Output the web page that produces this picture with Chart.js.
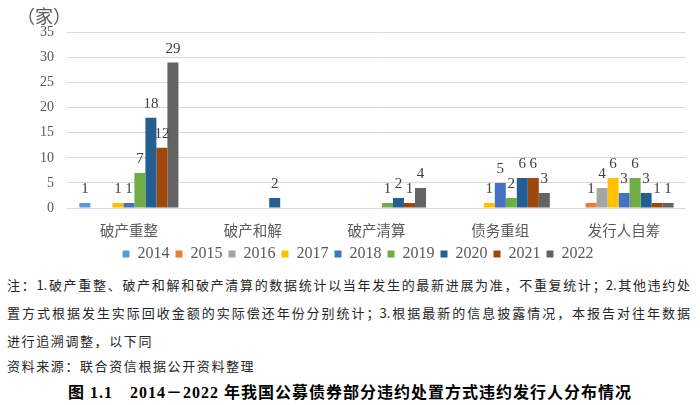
<!DOCTYPE html>
<html>
<head>
<meta charset="utf-8">
<script src="https://cdn.jsdelivr.net/npm/chart.js@4.4.0/dist/chart.umd.min.js"></script>
<style>
  html, body { margin: 0; padding: 0; background: #fff; }
  body { width: 700px; height: 405px; position: relative; overflow: hidden; }
  #wrap { position: absolute; left: 0; top: 0; width: 700px; height: 272px; }
  .note { position: absolute; left: 7px; width: 683px; font: 13px "Noto Sans CJK SC", sans-serif; color: #262626; line-height: 20px; }
  .just { text-align: justify; text-align-last: justify; }
  .spaced { letter-spacing: 1.6px; }
  #title { position: absolute; left: 0; width: 700px; top: 382px; text-align: center; font: bold 16px "Liberation Serif", "Noto Sans CJK SC", serif; letter-spacing: 1px; color: #000; line-height: 22px; }
</style>
</head>
<body>
<div id="wrap"><canvas id="js-bar-chart"></canvas></div>
<div class="note just" style="top:275px">注：1.破产重整、破产和解和破产清算的数据统计以当年发生的最新进展为准，不重复统计；2.其他违约处</div>
<div class="note just" style="top:303px">置方式根据发生实际回收金额的实际偿还年份分别统计；3.根据最新的信息披露情况，本报告对往年数据</div>
<div class="note spaced" style="top:331px">进行追溯调整，以下同</div>
<div class="note spaced" style="top:356px">资料来源：联合资信根据公开资料整理</div>
<div id="title">图 1.1　2014－2022 年我国公募债券部分违约处置方式违约发行人分布情况</div>
<script>
var categories = ["破产重整", "破产和解", "破产清算", "债务重组", "发行人自筹"]
var years = ["2014", "2015", "2016", "2017", "2018", "2019", "2020", "2021", "2022"]
var colors = ["#5B9BD5", "#ED7D31", "#A5A5A5", "#FFC000", "#4472C4", "#70AD47", "#255E91", "#9E480E", "#636363"]

// counts per year, in category order
var v2014 = [1, 0, 0, 0, 0]
var v2015 = [0, 0, 0, 0, 1]
var v2016 = [0, 0, 0, 0, 4]
var v2017 = [1, 0, 0, 1, 6]
var v2018 = [1, 0, 0, 5, 3]
var v2019 = [7, 0, 1, 2, 6]
var v2020 = [18, 2, 2, 6, 3]
var v2021 = [12, 0, 1, 6, 1]
var v2022 = [29, 0, 4, 3, 1]
var values = [v2014, v2015, v2016, v2017, v2018, v2019, v2020, v2021, v2022]

var yMin = 0
var yMax = 35
var yStep = 5
var unitLabel = "（家）"

var serif = "'Liberation Serif', 'Noto Sans CJK SC', serif"

// value labels above each non-zero bar
var barLabels = {
  id: "barLabels",
  afterDatasetsDraw: function (chart) {
    var c = chart.ctx
    c.save()
    c.font = "15px " + serif
    c.fillStyle = "#404040"
    c.textAlign = "center"
    c.textBaseline = "alphabetic"
    chart.data.datasets.forEach(function (ds, i) {
      chart.getDatasetMeta(i).data.forEach(function (bar, j) {
        if (!ds.data[j]) return
        c.fillText(ds.data[j], bar.x, bar.y - 9.5)
      })
    })
    c.restore()
  }
}

// unit above the y axis
var unitText = {
  id: "unitText",
  afterDraw: function (chart) {
    var c = chart.ctx
    c.save()
    c.font = "18px 'Noto Sans CJK SC', sans-serif"
    c.fillStyle = "#595959"
    c.textAlign = "center"
    c.textBaseline = "middle"
    c.fillText(unitLabel, 44, 16)
    c.restore()
  }
}

var ctx = document.getElementById("js-bar-chart")

var chart = new Chart(ctx,
  {
    type: "bar",
    data: {
      labels: categories,
      datasets: years.map(function (y, i) {
        return {
          label: y,
          data: values[i],
          backgroundColor: colors[i],
          borderWidth: 0,
          categoryPercentage: 0.8,
          barPercentage: 1.0
        }
      })
    },
    options: {
      responsive: true,
      maintainAspectRatio: false,
      animation: false,
      layout: {
        padding: { left: 30, right: 14, top: 32.5, bottom: 0 }
      },
      scales: {
        x: {
          afterFit: function (scale) { scale.height = 32 },
          grid: { display: false, drawTicks: false },
          border: { display: false },
          ticks: {
            padding: 15,
            color: "#595959",
            font: { family: serif, size: 14.5 }
          }
        },
        y: {
          min: yMin,
          max: yMax,
          afterFit: function (scale) { scale.width = 37 },
          grid: { color: "#D9D9D9", lineWidth: 1, drawTicks: false },
          border: { display: false },
          ticks: {
            stepSize: yStep,
            padding: 13,
            color: "#595959",
            font: { family: serif, size: 14 }
          }
        }
      },
      plugins: {
        tooltip: { enabled: false },
        legend: {
          display: true,
          position: "bottom",
          labels: {
            boxWidth: 7,
            boxHeight: 7,
            padding: 6,
            color: "#595959",
            font: { family: serif, size: 16 }
          }
        }
      }
    },
    plugins: [barLabels, unitText]
  })
</script>
</body>
</html>
